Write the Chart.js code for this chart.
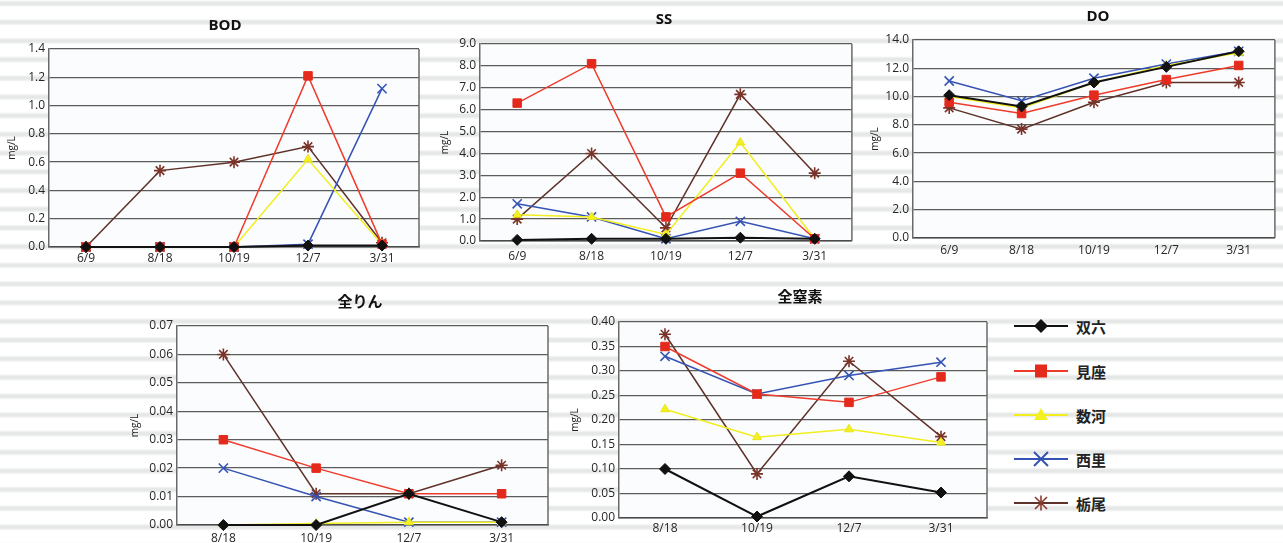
<!DOCTYPE html>
<html>
<head>
<meta charset="utf-8">
<script src="https://cdn.jsdelivr.net/npm/chart.js@4.4.1/dist/chart.umd.min.js"></script>
<style>
html,body{margin:0;padding:0;}
body{width:1283px;height:543px;overflow:hidden;position:relative;
  background:repeating-linear-gradient(to bottom,#ffffff 0px,#f3f4f4 1px,#e6e8e8 2.5px,#e6e8e8 4.5px,#f3f4f4 6px,#ffffff 7px,#ffffff 18.7px);}
canvas{position:absolute;}
.lg{position:absolute;left:1014px;height:20px;display:flex;align-items:center;}
.lg span{margin-left:8px;font-family:"Noto Sans CJK JP",sans-serif;font-size:15px;font-weight:bold;color:#222;}
</style>
</head>
<body>
<canvas id="cBOD"></canvas>
<canvas id="cSS"></canvas>
<canvas id="cDO"></canvas>
<canvas id="cTP"></canvas>
<canvas id="cTN"></canvas>
<div id="legend"></div>
<script>
// ---------- data ----------
const SITES = ['双六', '見座', '数河', '西里', '栃尾'];
const DATES5 = ['6/9', '8/18', '10/19', '12/7', '3/31'];
const DATES4 = ['8/18', '10/19', '12/7', '3/31'];

// BOD (mg/L)
const BOD_SUGOROKU = [0, 0, 0, 0.01, 0.01];
const BOD_MIZA     = [0, 0, 0, 1.21, 0.02];
const BOD_SUGO     = [0, 0, 0, 0.62, 0.02];
const BOD_NISHI    = [0, 0, 0, 0.02, 1.12];
const BOD_TOCHIO   = [0, 0.54, 0.60, 0.71, 0.03];

// SS (mg/L)
const SS_SUGOROKU = [0.05, 0.1, 0.1, 0.15, 0.1];
const SS_MIZA     = [6.3, 8.1, 1.1, 3.1, 0.1];
const SS_SUGO     = [1.2, 1.1, 0.3, 4.5, 0.1];
const SS_NISHI    = [1.7, 1.1, 0.1, 0.9, 0.1];
const SS_TOCHIO   = [1.0, 4.0, 0.6, 6.7, 3.1];

// DO (mg/L)
const DO_SUGOROKU = [10.1, 9.3, 11.0, 12.1, 13.2];
const DO_MIZA     = [9.6, 8.8, 10.1, 11.2, 12.2];
const DO_SUGO     = [10.0, 9.2, 11.0, 12.2, 13.1];
const DO_NISHI    = [11.1, 9.7, 11.3, 12.3, 13.2];
const DO_TOCHIO   = [9.2, 7.7, 9.6, 11.0, 11.0];

// 全りん (mg/L)
const TP_SUGOROKU = [0, 0, 0.011, 0.001];
const TP_MIZA     = [0.030, 0.020, 0.011, 0.011];
const TP_SUGO     = [0, 0.0005, 0.001, 0.001];
const TP_NISHI    = [0.020, 0.010, 0.001, 0.001];
const TP_TOCHIO   = [0.060, 0.011, 0.011, 0.021];

// 全窒素 (mg/L)
const TN_SUGOROKU = [0.100, 0.003, 0.085, 0.052];
const TN_MIZA     = [0.350, 0.253, 0.236, 0.288];
const TN_SUGO     = [0.222, 0.165, 0.181, 0.154];
const TN_NISHI    = [0.330, 0.253, 0.291, 0.318];
const TN_TOCHIO   = [0.375, 0.090, 0.320, 0.166];

// ---------- styles ----------
const LINE_COLORS  = ['#111111', '#ef3b2c', '#f2ee1e', '#3553b3', '#5e3129'];
const POINT_FILL   = ['#111111', '#e42a1c', '#f5f020', '#3553b3', '#8c3a2e'];
const POINT_STYLES = ['rectRot', 'rect', 'triangle', 'crossRot', 'star'];
const POINT_RADII  = [5.5, 6, 5, 6.5, 6];
const LINE_WIDTHS  = [2, 1.5, 1.5, 1.5, 1.5];
const FONT_LATIN = '"Open Sans","Noto Sans",sans-serif';
const FONT_TITLE = '"Open Sans","Noto Sans CJK JP",sans-serif';

const framePlugin = {
  id: 'frame',
  afterLayout(chart) {
    const o = chart.options.plugins.frame;
    const tb = chart.titleBlock;
    if (tb && o && o.titleX != null) {
      const w = tb.right - tb.left;
      tb.left = o.titleX - o.cl - w / 2;
      tb.right = tb.left + w;
    }
  },
  beforeDraw(chart) {
    const a = chart.chartArea, ctx = chart.ctx;
    ctx.save();
    ctx.fillStyle = '#fbfcfd';
    ctx.fillRect(a.left, a.top, a.right - a.left, a.bottom - a.top);
    ctx.restore();
  },
  beforeDatasetsDraw(chart) {
    const a = chart.chartArea, ctx = chart.ctx;
    ctx.save();
    ctx.strokeStyle = '#6a6a6a';
    ctx.lineWidth = 1.5;
    ctx.beginPath();
    ctx.moveTo(a.right, a.top);
    ctx.lineTo(a.right, a.bottom);
    ctx.stroke();
    ctx.restore();
  }
};

function makeChart(id, spec) {
  const cv = document.getElementById(id);
  cv.width = spec.W; cv.height = spec.H;
  cv.style.left = spec.cl + 'px'; cv.style.top = spec.ct + 'px';
  cv.style.width = spec.W + 'px'; cv.style.height = spec.H + 'px';

  const yw = spec.plot[0] - spec.cl;
  const padR = spec.cl + spec.W - spec.plot[2];
  const xh = spec.ct + spec.H - spec.plot[3];
  const tFs = 15, tLh = tFs * 1.2;
  const tTop = spec.titleY - spec.ct - tLh / 2;
  const tBot = (spec.plot[1] - spec.ct) - tTop - tLh;
  const yTitlePad = spec.yTitleX - spec.cl - 10 * 1.2 / 2;

  const datasets = spec.series.map((s, i) => ({
    label: SITES[i],
    data: s,
    borderColor: LINE_COLORS[i],
    backgroundColor: POINT_FILL[i],
    pointBackgroundColor: POINT_FILL[i],
    pointBorderColor: i === 4 ? '#7a3328' : (i === 2 ? '#e8e418' : POINT_FILL[i]),
    pointStyle: POINT_STYLES[i],
    pointRadius: POINT_RADII[i],
    pointBorderWidth: i >= 3 ? 1.6 : 1,
    borderWidth: LINE_WIDTHS[i],
    tension: 0,
    clip: false
  }));

  return new Chart(cv.getContext('2d'), {
    type: 'line',
    data: { labels: spec.labels, datasets },
    options: {
      responsive: false,
      animation: false,
      devicePixelRatio: 1,
      layout: { padding: { left: 0, right: padR, top: 0, bottom: 0 } },
      plugins: {
        legend: { display: false },
        tooltip: { enabled: false },
        frame: { titleX: spec.titleX, cl: spec.cl },
        title: {
          display: true, text: spec.title, fullSize: false, color: '#111',
          font: { size: tFs, weight: 'bold', family: FONT_TITLE, lineHeight: 1.2 },
          padding: { top: tTop, bottom: tBot }
        }
      },
      scales: {
        x: {
          offset: true,
          grid: { display: false, drawTicks: false },
          border: { display: true, color: '#4a4a4a', width: 1.5 },
          ticks: { color: '#262626', font: { size: 12, family: FONT_LATIN }, padding: spec.xPad, maxRotation: 0, autoSkip: false },
          afterFit: s => { s.height = xh; }
        },
        y: {
          min: spec.min, max: spec.max,
          grid: { color: '#5c5c5c', lineWidth: 1.3, drawTicks: false },
          border: { display: true, color: '#6a6a6a', width: 1.5 },
          ticks: { stepSize: spec.step, padding: 4, color: '#262626', font: { size: 12, family: FONT_LATIN },
                   callback: v => Number(v).toFixed(spec.dec) },
          title: { display: true, text: 'mg/L', color: '#222', font: { size: 10, family: FONT_LATIN, lineHeight: 1.2 },
                   padding: { top: yTitlePad, bottom: 0 } },
          afterFit: s => { s.width = yw; }
        }
      }
    },
    plugins: [framePlugin]
  });
}

makeChart('cBOD', {
  title: 'BOD', labels: DATES5,
  series: [BOD_SUGOROKU, BOD_MIZA, BOD_SUGO, BOD_NISHI, BOD_TOCHIO],
  min: 0, max: 1.4, step: 0.2, dec: 1,
  cl: 0, ct: 0, W: 430, H: 270, plot: [49, 49, 419, 247],
  titleX: 225, titleY: 26, yTitleX: 12, xPad: 4
});
makeChart('cSS', {
  title: 'SS', labels: DATES5,
  series: [SS_SUGOROKU, SS_MIZA, SS_SUGO, SS_NISHI, SS_TOCHIO],
  min: 0, max: 9, step: 1, dec: 1,
  cl: 430, ct: 0, W: 430, H: 270, plot: [480, 44, 852, 241],
  titleX: 664, titleY: 20, yTitleX: 445, xPad: 8
});
makeChart('cDO', {
  title: 'DO', labels: DATES5,
  series: [DO_SUGOROKU, DO_MIZA, DO_SUGO, DO_NISHI, DO_TOCHIO],
  min: 0, max: 14, step: 2, dec: 1,
  cl: 860, ct: 0, W: 423, H: 270, plot: [913, 40, 1278, 238],
  titleX: 1098, titleY: 17, yTitleX: 875, xPad: 5
});
makeChart('cTP', {
  title: '全りん', labels: DATES4,
  series: [TP_SUGOROKU, TP_MIZA, TP_SUGO, TP_NISHI, TP_TOCHIO],
  min: 0, max: 0.07, step: 0.01, dec: 2,
  cl: 120, ct: 280, W: 440, H: 263, plot: [177, 326, 548, 525],
  titleX: 360, titleY: 303, yTitleX: 135, xPad: 6
});
makeChart('cTN', {
  title: '全窒素', labels: DATES4,
  series: [TN_SUGOROKU, TN_MIZA, TN_SUGO, TN_NISHI, TN_TOCHIO],
  min: 0, max: 0.4, step: 0.05, dec: 2,
  cl: 560, ct: 280, W: 440, H: 263, plot: [619, 322, 987, 518],
  titleX: 800, titleY: 298, yTitleX: 575, xPad: 3.5
});

// ---------- legend ----------
const LEGEND_Y = [326, 371, 415, 459, 503];
const markerSvg = [
  '<polygon points="27,3 34,10 27,17 20,10" fill="#111"/>',
  '<rect x="21" y="3.5" width="12" height="13" fill="#e42a1c"/>',
  '<polygon points="27,3 34,15 20,15" fill="#f5f020"/>',
  '<path d="M20 3 L34 17 M20 17 L34 3" stroke="#3553b3" stroke-width="2"/>',
  '<path d="M21 4 L33 16 M21 16 L33 4 M27 2.5 L27 17.5" stroke="#8c3a2e" stroke-width="1.6"/>'
];
const lg = document.getElementById('legend');
SITES.forEach((name, i) => {
  const d = document.createElement('div');
  d.className = 'lg';
  d.style.top = (LEGEND_Y[i] - 10) + 'px';
  d.innerHTML = '<svg width="54" height="20"><line x1="0" y1="10" x2="54" y2="10" stroke="' + LINE_COLORS[i] +
    '" stroke-width="2"/>' + markerSvg[i] + '</svg><span>' + name + '</span>';
  lg.appendChild(d);
});
</script>
</body>
</html>
